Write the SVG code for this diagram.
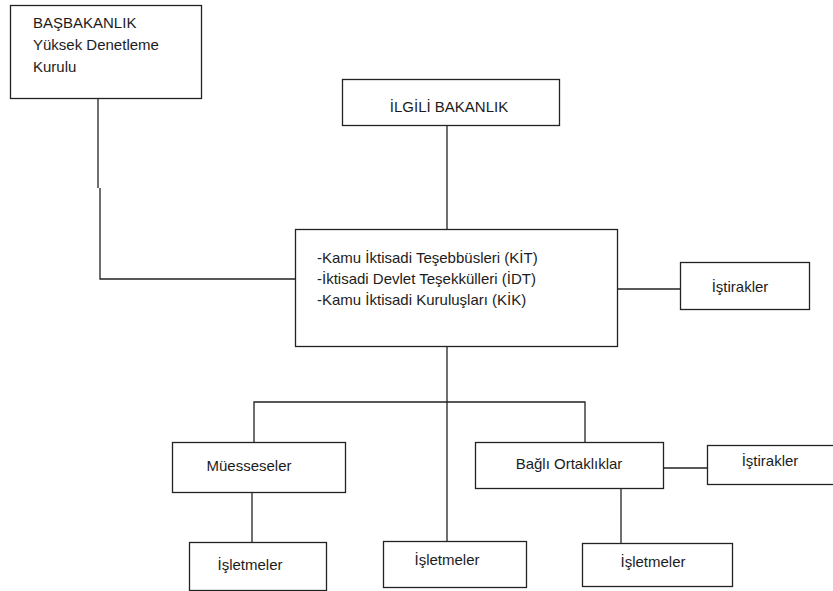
<svg xmlns="http://www.w3.org/2000/svg" width="833" height="591" viewBox="0 0 833 591">
<style>
.box{fill:#fff;stroke:#222;stroke-width:1.3}
.t{font-family:"Liberation Sans",Arial,sans-serif;font-size:15px;fill:#1c1c1c}
.c{fill:none;stroke:#222;stroke-width:1.3}
</style>
<rect width="833" height="591" fill="#fff"/>
<g id="connectors">
<polyline class="c" points="98,98 98,188"/>
<polyline class="c" points="100,188 100,279 296,279"/>
<line class="c" x1="447" y1="125" x2="447" y2="230"/>
<line class="c" x1="617" y1="289" x2="681" y2="289"/>
<line class="c" x1="447" y1="346" x2="447" y2="541"/>
<polyline class="c" points="254,442 254,402 585,402 585,442"/>
<line class="c" x1="252" y1="492" x2="252" y2="542"/>
<line class="c" x1="621" y1="489" x2="621" y2="543"/>
<line class="c" x1="663" y1="468" x2="707" y2="468"/>
</g>
<g id="basbakanlik">
<rect class="box" x="10.5" y="5.5" width="191" height="93"/>
<text class="t" x="33" y="28">BAŞBAKANLIK</text>
<text class="t" x="33" y="50">Yüksek Denetleme</text>
<text class="t" x="33" y="72">Kurulu</text>
</g>
<g id="ilgili-bakanlik">
<rect class="box" x="342.5" y="79.5" width="217" height="46"/>
<text class="t" x="449" y="112" text-anchor="middle">İLGİLİ BAKANLIK</text>
</g>
<g id="kit">
<rect class="box" x="295.5" y="229.5" width="322" height="117"/>
<text class="t" x="317" y="263">-Kamu İktisadi Teşebbüsleri (KİT)</text>
<text class="t" x="317" y="284">-İktisadi Devlet Teşekkülleri (İDT)</text>
<text class="t" x="317" y="305">-Kamu İktisadi Kuruluşları (KİK)</text>
</g>
<g id="istirakler-1">
<rect class="box" x="680.5" y="262.5" width="129" height="47"/>
<text class="t" x="740" y="292" text-anchor="middle">İştirakler</text>
</g>
<g id="muesseseler">
<rect class="box" x="172.5" y="442.5" width="173" height="50"/>
<text class="t" x="249" y="471" text-anchor="middle">Müesseseler</text>
</g>
<g id="bagli-ortakliklar">
<rect class="box" x="475.5" y="442.5" width="188" height="46"/>
<text class="t" x="569" y="469" text-anchor="middle">Bağlı Ortaklıklar</text>
</g>
<g id="istirakler-2">
<rect class="box" x="707.5" y="445.5" width="130" height="39"/>
<text class="t" x="770" y="466" text-anchor="middle">İştirakler</text>
</g>
<g id="isletmeler-1">
<rect class="box" x="189.5" y="542.5" width="137" height="48"/>
<text class="t" x="250" y="570" text-anchor="middle">İşletmeler</text>
</g>
<g id="isletmeler-2">
<rect class="box" x="383.5" y="541.5" width="143" height="46"/>
<text class="t" x="447" y="565" text-anchor="middle">İşletmeler</text>
</g>
<g id="isletmeler-3">
<rect class="box" x="582.5" y="543.5" width="150" height="43"/>
<text class="t" x="653" y="567" text-anchor="middle">İşletmeler</text>
</g>
</svg>
